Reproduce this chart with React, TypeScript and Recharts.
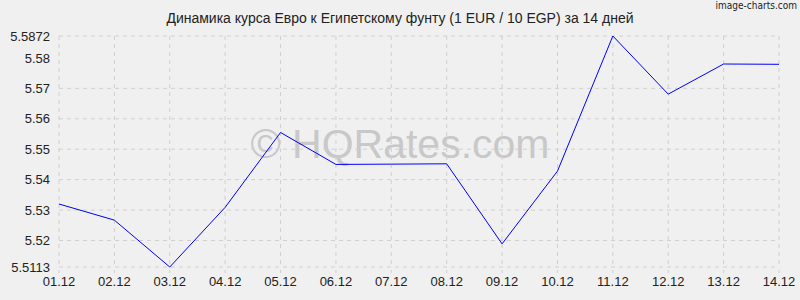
import React from 'react';
import { LineChart, Line, XAxis, YAxis, CartesianGrid } from 'recharts';

const dates = ['01.12', '02.12', '03.12', '04.12', '05.12', '06.12', '07.12', '08.12', '09.12', '10.12', '11.12', '12.12', '13.12', '14.12'];
const rates = [5.532, 5.5267, 5.5113, 5.5309, 5.5555, 5.545, 5.5451, 5.5452, 5.5189, 5.5428, 5.5872, 5.5681, 5.578, 5.5779];
const yTicks = [5.5113, 5.52, 5.53, 5.54, 5.55, 5.56, 5.57, 5.58, 5.5872];

const data = dates.map((d, i) => ({ date: d, rate: rates[i] }));

const tickStyle = { fontSize: 13, fill: '#222', fontFamily: 'Liberation Sans, Arial, sans-serif' };

const App: React.FC = () => {
  return (
    <div style={{ position: 'fixed', left: 0, top: 0, width: 800, height: 300, background: '#f0f0f0', fontFamily: 'Liberation Sans, Arial, sans-serif' }}>
      <div style={{ position: 'absolute', left: 0, top: 10, width: 800, textAlign: 'center', fontSize: 14, color: '#222' }}>
        Динамика курса Евро к Египетскому фунту (1 EUR / 10 EGP) за 14 дней
      </div>
      <div style={{ position: 'absolute', right: 3, top: 0, fontSize: 10, color: '#222', fontFamily: 'DejaVu Sans Condensed, DejaVu Sans, sans-serif' }}>
        image-charts.com
      </div>
      <div style={{ position: 'absolute', left: 0, top: 121, width: 800, textAlign: 'center', fontSize: 41, color: '#c8c8c8' }}>
        © HQRates.com
      </div>
      <div style={{ position: 'absolute', left: 0, top: 0 }}>
        <LineChart width={800} height={300} data={data} margin={{ top: 36, right: 21, left: 0, bottom: 0 }}>
          <CartesianGrid stroke="#d0d0d0" strokeDasharray="4 4" />
          <XAxis
            dataKey="date"
            height={33}
            axisLine={false}
            tickLine={{ stroke: '#d0d0d0', strokeDasharray: '3 3' }}
            tickSize={6}
            tickMargin={4}
            tick={tickStyle}
            interval={0}
          />
          <YAxis
            width={59}
            domain={[5.5113, 5.5872]}
            ticks={yTicks}
            axisLine={false}
            tickLine={false}
            tickSize={6}
            tickMargin={3}
            tick={tickStyle}
            tickFormatter={(v: number) => String(v)}
          />
          <Line type="linear" dataKey="rate" stroke="#0000ff" strokeWidth={1} dot={false} isAnimationActive={false} />
        </LineChart>
      </div>
    </div>
  );
};

export default App;
